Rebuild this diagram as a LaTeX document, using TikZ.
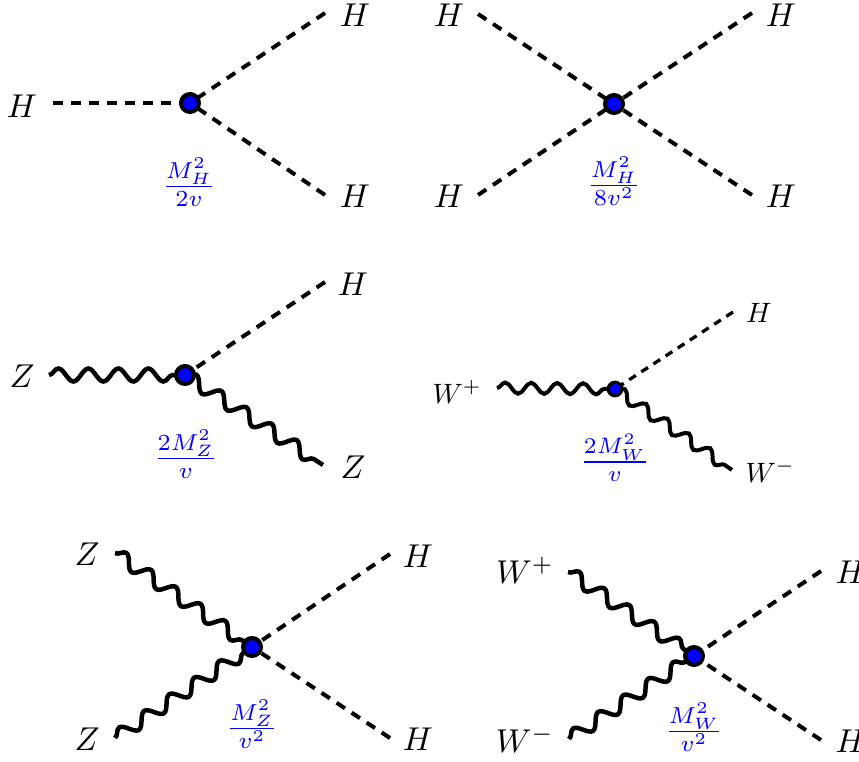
\documentclass[tikz,border=0pt]{standalone}
\usetikzlibrary{decorations.pathmorphing}
\tikzset{
 scalar/.style={line width=4pt, dash pattern=on 10pt off 8pt},
 scalarsm/.style={line width=3.3pt, dash pattern=on 8pt off 6.5pt},
 boson/.style={line width=4.5pt, decorate, decoration={snake, amplitude=6.5pt, segment length=30pt}},
 bosonsm/.style={line width=4pt, decorate, decoration={snake, amplitude=5.5pt, segment length=26pt}},
 vtx/.style={circle, draw=black, fill=blue, line width=4pt, minimum size=18pt, inner sep=0pt},
 vtxsm/.style={circle, draw=black, fill=blue, line width=3.2pt, minimum size=13.5pt, inner sep=0pt},
 lab/.style={scale=3.3, anchor=base, inner sep=0pt},
 labsm/.style={scale=2.8, anchor=base, inner sep=0pt},
 coup/.style={lab, text=blue}
}
\begin{document}
\begin{tikzpicture}[x=1pt,y=-1pt]
\useasboundingbox (0,0) rectangle (859,761);
% ---------- diagram 1 ----------
\coordinate (v1) at (190,103);
\coordinate (a1) at (53,103);
\coordinate (b1) at (325,13);
\coordinate (c1) at (325,195);
\draw[scalar] (a1) -- (v1);
\draw[scalar] (b1) -- (v1);
\draw[scalar] (c1) -- (v1);
\node[vtx] (n1) at (v1) {};
\node[lab] (l1a) at (22,117) {$H$};
\node[lab] (l1b) at (355,26) {$H$};
\node[lab] (l1c) at (355,207) {$H$};
\node[coup] (k1) at (189,195) {$\frac{M_H^2}{2v}$};
% ---------- diagram 2 ----------
\coordinate (v2) at (614,104);
\coordinate (a2) at (478,14);
\coordinate (b2) at (478,195);
\coordinate (c2) at (752,13);
\coordinate (d2) at (752,195);
\draw[scalar] (a2) -- (v2);
\draw[scalar] (b2) -- (v2);
\draw[scalar] (c2) -- (v2);
\draw[scalar] (d2) -- (v2);
\node[vtx] (n2) at (v2) {};
\node[lab] (l2a) at (449,26) {$H$};
\node[lab] (l2b) at (449,207) {$H$};
\node[lab] (l2c) at (781,26) {$H$};
\node[lab] (l2d) at (781,207) {$H$};
\node[coup] (k2) at (614,194) {$\frac{M_H^2}{8v^2}$};
% ---------- diagram 3 ----------
\coordinate (v3) at (185,375);
\coordinate (a3) at (49,375);
\coordinate (b3) at (325,282);
\coordinate (c3) at (323,465);
\draw[boson] (a3) -- (v3);
\draw[boson] (v3) -- (c3);
\draw[scalar] (b3) -- (v3);
\node[vtx] (n3) at (v3) {};
\node[lab] (l3a) at (22,387) {$Z$};
\node[lab] (l3b) at (353,295) {$H$};
\node[lab] (l3c) at (353,478) {$Z$};
\node[coup] (k3) at (186,467) {$\frac{2M_Z^2}{v}$};
% ---------- diagram 4 ----------
\coordinate (v4) at (615,389);
\coordinate (a4) at (497,388);
\coordinate (b4) at (733,312);
\coordinate (c4) at (732,470);
\draw[bosonsm] (a4) -- (v4);
\draw[bosonsm] (v4) -- (c4);
\draw[scalarsm] (b4) -- (v4);
\node[vtxsm] (n4) at (v4) {};
\node[labsm, anchor=base west] (l4a) at (432,403) {$W^+$};
\node[labsm] (l4b) at (759,322) {$H$};
\node[labsm, anchor=base west] (l4c) at (745,482) {$W^-$};
\node[coup, scale=0.97] (k4) at (615,470) {$\frac{2M_W^2}{v}$};
% ---------- diagram 5 ----------
\coordinate (v5) at (252,647);
\coordinate (a5) at (115,553);
\coordinate (b5) at (115,738);
\coordinate (c5) at (390,554);
\coordinate (d5) at (390,738);
\draw[boson] (a5) -- (v5);
\draw[boson] (b5) -- (v5);
\draw[scalar] (c5) -- (v5);
\draw[scalar] (d5) -- (v5);
\node[vtx] (n5) at (v5) {};
\node[lab] (l5a) at (87,565) {$Z$};
\node[lab] (l5b) at (87,750) {$Z$};
\node[lab] (l5c) at (418,567) {$H$};
\node[lab] (l5d) at (418,750) {$H$};
\node[coup] (k5) at (252,737) {$\frac{M_Z^2}{v^2}$};
% ---------- diagram 6 ----------
\coordinate (v6) at (694,656);
\coordinate (a6) at (568,572);
\coordinate (b6) at (569,739);
\coordinate (c6) at (821,571);
\coordinate (d6) at (821,740);
\draw[boson] (a6) -- (v6);
\draw[boson] (b6) -- (v6);
\draw[scalar] (c6) -- (v6);
\draw[scalar] (d6) -- (v6);
\node[vtx] (n6) at (v6) {};
\node[lab] (l6a) at (525,583) {$W^+$};
\node[lab] (l6b) at (525,752) {$W^-$};
\node[lab, anchor=base west] (l6c) at (835,583) {$H$};
\node[lab, anchor=base west] (l6d) at (835,752) {$H$};
\node[coup] (k6) at (694,740) {$\frac{M_W^2}{v^2}$};
\end{tikzpicture}
\end{document}
